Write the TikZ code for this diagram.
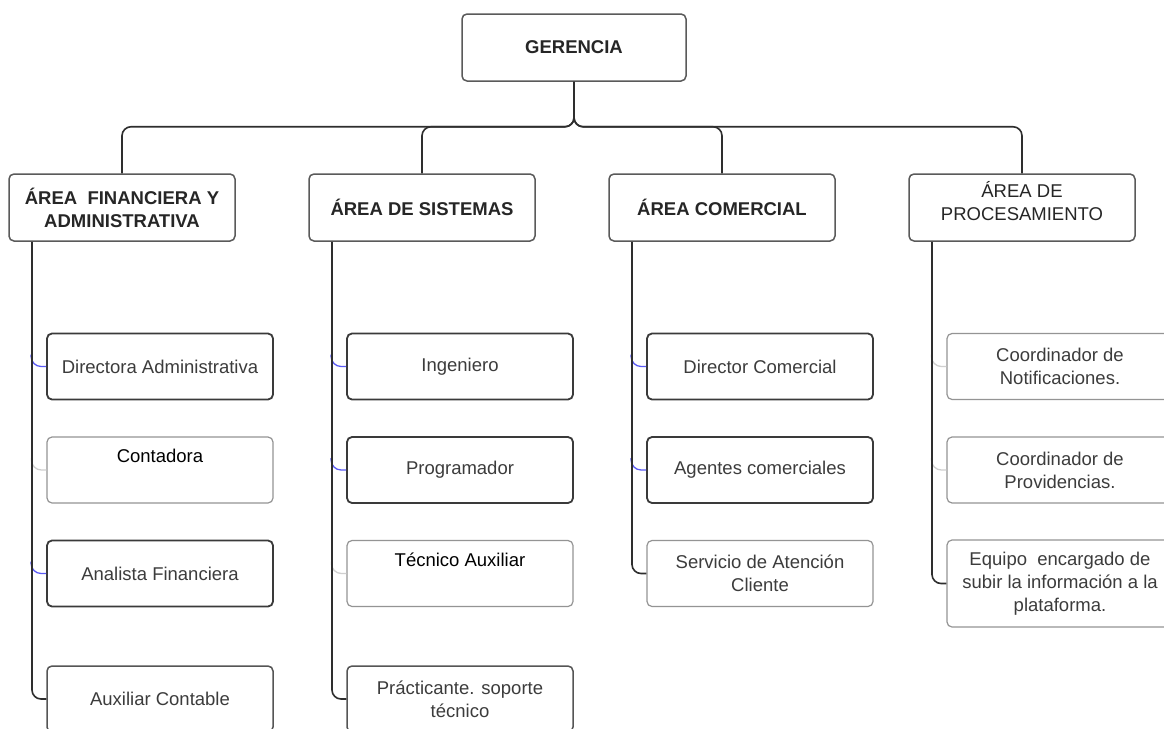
\documentclass[tikz,border=0pt]{standalone}
\usepackage{fontspec}
\setmainfont{Liberation Sans}
\definecolor{linec}{HTML}{2E2E2E}
\definecolor{darkb}{HTML}{3A3A3A}
\definecolor{headb}{HTML}{5A5A5A}
\definecolor{lightb}{HTML}{949494}
\definecolor{midb}{HTML}{555555}
\definecolor{txtc}{HTML}{3C3C3C}
\definecolor{headt}{HTML}{262626}
\definecolor{stubblue}{HTML}{5A5AF5}
\definecolor{stubgrey}{HTML}{CFCFCF}
\newcommand{\fsz}{\fontsize{18.5}{23}\selectfont}
\begin{document}
\begin{tikzpicture}[x=1pt,y=-1pt,
  basebox/.style={rounded corners=5pt, minimum width=226pt, minimum height=66pt,
    inner sep=2pt, align=center, font=\fsz, text=txtc},
  headbox/.style={basebox, draw=headb, line width=1.5pt, text=headt, font=\fsz\bfseries},
  darkbox/.style={basebox, draw=darkb, line width=1.8pt},
  lightbox/.style={basebox, draw=lightb, line width=1.2pt},
  midbox/.style={basebox, draw=midb, line width=1.5pt},
  toptext/.style={font=\fsz, text=black, inner sep=0pt},
  conn/.style={draw=linec, line width=1.6pt, rounded corners=9pt},
  bstub/.style={draw=stubblue, line width=1.3pt, rounded corners=10pt},
  gstub/.style={draw=stubgrey, line width=1.3pt, rounded corners=10pt}]
\useasboundingbox (0,0) rectangle (1164,728);
\fill[white] (0,0) rectangle (1164,728);

% top
\node[headbox, minimum width=224pt, minimum height=67pt] (ger) at (574,47.5) {GERENCIA};

% areas
\node[headbox, minimum height=67pt] (fin) at (122,207.5) {ÁREA\ \ FINANCIERA Y\\ADMINISTRATIVA};
\node[headbox, minimum height=67pt] (sis) at (422,207.5) {ÁREA DE SISTEMAS};
\node[headbox, minimum height=67pt] (com) at (722,207.5) {ÁREA COMERCIAL};
\node[headbox, minimum height=67pt, font=\fsz] (pro) at (1022,207.5) {ÁREA DE\\PROCESAMIENTO\\[-10pt]};

% column 1
\node[darkbox] (dir) at (160,366.5) {Directora Administrativa};
\node[lightbox] (cont) at (160,470) {};
\node[toptext, name=contt] at (160,456) {Contadora};
\node[darkbox] (ana) at (160,573.5) {Analista Financiera};
\node[midbox] (aux) at (160,699) {Auxiliar Contable};

% column 2
\node[darkbox] (ing) at (460,366.5) {Ingeniero};
\node[darkbox] (prog) at (460,470) {Programador};
\node[lightbox] (tec) at (460,573.5) {};
\node[toptext, name=tect] at (460,560) {Técnico Auxiliar};
\node[midbox] (prac) at (460,699) {Prácticante. soporte\\técnico};

% column 3
\node[darkbox] (dcom) at (760,366.5) {Director Comercial};
\node[darkbox] (age) at (760,470) {Agentes comerciales};
\node[lightbox] (serv) at (760,573.5) {Servicio de Atención\\Cliente};

% column 4
\node[lightbox] (cnot) at (1060,366.5) {Coordinador de\\Notificaciones.};
\node[lightbox] (cprov) at (1060,470) {Coordinador de\\Providencias.};
\node[lightbox, minimum height=87pt] (equ) at (1060,583.5) {Equipo\ \ encargado de\\subir la información a la\\plataforma.};

% bus from top
\foreach \a in {fin,sis,com,pro}
  \draw[conn] (ger.south) -- ++(0,45) -| (\a.north);

% stubs
\foreach \c in {dir,ana,ing,prog,dcom,age}
  \draw[bstub] ([xshift=-15pt,yshift=12pt]\c.west) |- (\c.west);
\foreach \c in {cont,tec,cnot,cprov}
  \draw[gstub] ([xshift=-15pt,yshift=12pt]\c.west) |- (\c.west);

% column lines
\draw[conn] ([xshift=-90pt]fin.south) |- (aux.west);
\draw[conn] ([xshift=-90pt]sis.south) |- (prac.west);
\draw[conn] ([xshift=-90pt]com.south) |- (serv.west);
\draw[conn] ([xshift=-90pt]pro.south) |- (equ.west);
\end{tikzpicture}
\end{document}
